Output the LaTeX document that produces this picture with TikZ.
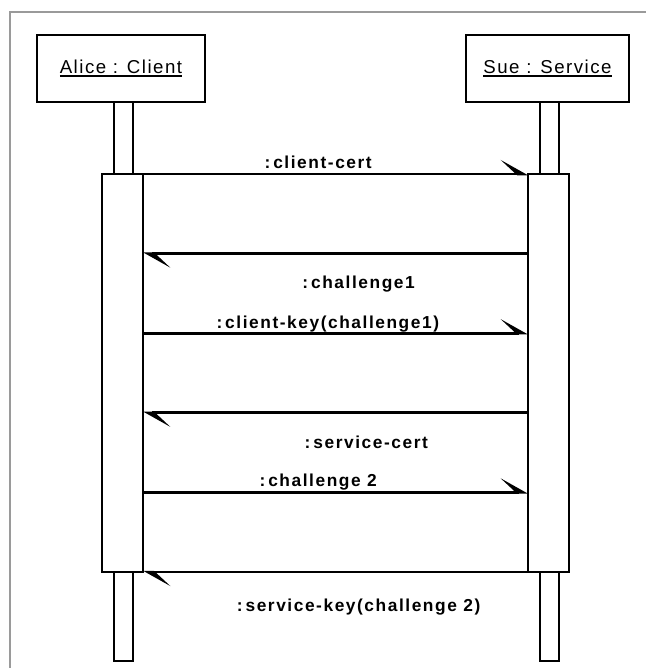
\documentclass[tikz,border=0pt]{standalone}
\usepackage{fontspec}
\setmainfont{Liberation Sans}
\newfontfamily\msgfont[LetterSpace=9]{Liberation Sans}
\newfontfamily\headfont[LetterSpace=8]{Liberation Sans}
\usetikzlibrary{arrows.meta, positioning, calc}
\definecolor{frameGray}{HTML}{9A9A9A}
\newcommand{\headname}[1]{\setbox0=\hbox{#1}\rlap{\rule[-3pt]{\wd0}{1.5pt}}\box0}

\begin{document}
\begin{tikzpicture}[
    x=0.75pt, y=-0.75pt,
    lifehead/.style={rectangle, draw, line width=1.5pt, outer sep=0pt, inner sep=0pt,
                 minimum height=50.25pt, font=\headfont\fontsize{14}{16}\selectfont},
    lifebar/.style={rectangle, draw, line width=1.5pt, outer sep=0pt, inner sep=0pt,
                 minimum width=14.25pt},
    activation/.style={rectangle, draw, fill=white, line width=1.5pt, outer sep=0pt,
                 inner sep=0pt, minimum width=30.75pt, minimum height=298.5pt},
    msg/.style={line width=2.1pt,
                -{Stealth[left, length=18.75pt, width=21pt, inset=11.25pt]}},
    msglabel/.style={font=\msgfont\bfseries\fontsize{13}{15}\selectfont,
                 inner sep=0pt, anchor=base},
  ]
    \useasboundingbox (0,0) rectangle (646,668);
    \draw[frameGray, line width=1.5pt] (10,668) -- (10,12) -- (646,12);

    % lifelines
    \node[lifehead, minimum width=126pt] (alice) at (121,68.5) {\headname{Alice : Client}};
    \node[lifehead, minimum width=122.25pt] (sue) at (547.5,68.5) {\headname{Sue : Service}};

    \node[lifebar, minimum height=54pt, below=0pt of alice, xshift=1.9pt] (aliceTop) {};
    \node[lifebar, minimum height=54pt, below=0pt of sue, xshift=1.5pt] (sueTop) {};
    \node[activation, below=0pt of aliceTop, xshift=-0.75pt] (aliceAct) {};
    \node[activation, below=0pt of sueTop, xshift=-0.75pt] (sueAct) {};
    \node[lifebar, minimum height=66.75pt, below=0pt of aliceAct, xshift=0.75pt] (aliceBot) {};
    \node[lifebar, minimum height=66.75pt, below=0pt of sueAct, xshift=0.75pt] (sueBot) {};

    \foreach \k in {0,...,5} {
      \coordinate (l\k) at ($(aliceAct.north east)!\k/5!(aliceAct.south east)$);
      \coordinate (r\k) at ($(sueAct.north west)!\k/5!(sueAct.south west)$);
    }

    % messages
    \draw[msg] (l0) -- node[msglabel, pos=0.455, yshift=4.5pt] {:\,client-cert} (r0);
    \draw[msg] (r1) -- node[msglabel, pos=0.44, yshift=-26.25pt] {:\,challenge1} (l1);
    \draw[msg] (l2) -- node[msglabel, pos=0.48, yshift=3.75pt] {:\,client-key(challenge1)} (r2);
    \draw[msg] (r3) -- node[msglabel, pos=0.42, yshift=-27pt] {:\,service-cert} (l3);
    \draw[msg] (l4) -- node[msglabel, pos=0.455, yshift=4.5pt] {:\,challenge 2} (r4);
    \draw[msg] (r5) -- node[msglabel, pos=0.44, yshift=-29.25pt] {:\,service-key(challenge 2)} (l5);
  \end{tikzpicture}
\end{document}
